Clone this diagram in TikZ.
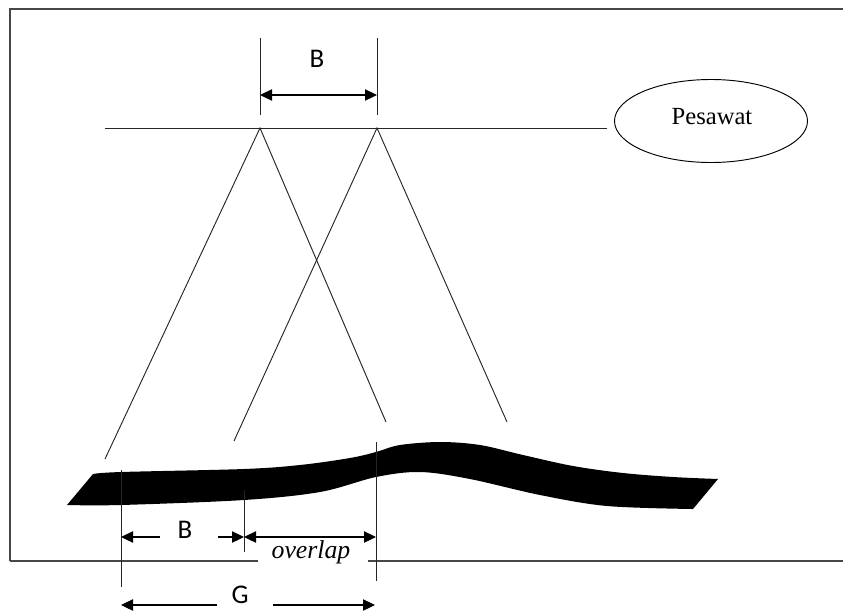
\documentclass[tikz,border=0pt]{standalone}
\usepackage{fontspec}
\setmainfont{Liberation Serif}
\setsansfont{Carlito}
\usetikzlibrary{arrows.meta,shapes.geometric}
\begin{document}
\begin{tikzpicture}[x=0.03cm,y=-0.03cm,
  thin line/.style={line width=0.8pt,draw=black!85},
  frameline/.style={line width=1.3pt,draw=black!72},
  dimarrow/.style={line width=0.9pt,draw=black,{Triangle[length=3.6mm,width=3.4mm]}-{Triangle[length=3.6mm,width=3.4mm]}},
  halfarrow/.style={line width=0.9pt,draw=black,-{Triangle[length=3.6mm,width=3.4mm]}},
  sanslbl/.style={font=\sffamily\fontsize{23}{26}\selectfont,inner sep=0pt},
  seriflbl/.style={font=\fontsize{21}{24}\selectfont,inner sep=0pt}]
\useasboundingbox (0,0) rectangle (843,613);
% frame
\coordinate (fTL) at (10,9); \coordinate (fTR) at (843,9);
\coordinate (fBL) at (10,561); \coordinate (fBR) at (843,561);
\coordinate (fG1) at (258,561); \coordinate (fG2) at (368,561);
\draw[frameline] (fBL) -- (fTL) -- (fTR);
\draw[frameline] (fBL) -- (fG1);
\draw[frameline] (fG2) -- (fBR);
% flight line and aircraft
\node[draw,ellipse,line width=0.8pt,minimum width=5.79cm,minimum height=2.49cm,seriflbl] (plane) at (711,121) {};
\node[seriflbl] (planetxt) at (712,117) {Pesawat};
\coordinate (fl1) at (105,128); \coordinate (fl2) at (607,128);
\draw[thin line] (fl1) -- (fl2);
\coordinate (P1) at (260,128); \coordinate (P2) at (377,128);
% top B dimension
\coordinate (t1a) at (260,38); \coordinate (t1b) at (260,115);
\coordinate (t2a) at (377,38); \coordinate (t2b) at (377,115);
\draw[thin line] (t1a) -- (t1b);
\draw[thin line] (t2a) -- (t2b);
\coordinate (ta1) at (260,95); \coordinate (ta2) at (377,95);
\draw[dimarrow] (ta1) -- (ta2);
\node[sanslbl] (Btop) at (317,59) {B};
% view rays
\coordinate (r1) at (105,459); \coordinate (r2) at (386,422);
\coordinate (r3) at (234,441); \coordinate (r4) at (507,422);
\draw[thin line] (r1) -- (P1) -- (r2);
\draw[thin line] (r3) -- (P2) -- (r4);
% terrain
\fill[black] plot[smooth,tension=0.55] coordinates {(93,474) (121,472) (244,469) (300,465) (350,458) (376,452) (400,445) (440,442) (480,445) (523,455) (573,466) (623,473) (673,477) (718,479)}
  -- (693,509)
  -- plot[smooth,tension=0.55] coordinates {(693,509) (607,506) (540,495) (470,479) (420,472) (376,477) (320,492) (244,500) (121,505) (67,505)}
  -- cycle;
% verticals
\coordinate (v1a) at (121,470); \coordinate (v1b) at (121,587);
\coordinate (v2a) at (244,490); \coordinate (v2b) at (244,552);
\coordinate (v3a) at (376,442); \coordinate (v3b) at (376,581);
\draw[thin line] (v1a) -- (v1b);
\draw[thin line] (v2a) -- (v2b);
\draw[thin line] (v3a) -- (v3b);
% bottom B
\node[sanslbl] (Bbot) at (185,530) {B};
\coordinate (bb1) at (160,537); \coordinate (bb2) at (218,537);
\coordinate (bbL) at (121,537); \coordinate (bbR) at (244,537);
\draw[halfarrow] (bb1) -- (bbL);
\draw[halfarrow] (bb2) -- (bbR);
% overlap
\coordinate (ov1) at (244,537); \coordinate (ov2) at (376,537);
\draw[dimarrow] (ov1) -- (ov2);
\node[seriflbl,font=\itshape\fontsize{22}{24}\selectfont] (ovl) at (311,552) {overlap};
% G
\node[sanslbl] (Glbl) at (240,595) {G};
\coordinate (g1) at (217,605); \coordinate (g2) at (273,605);
\coordinate (gL) at (121,605); \coordinate (gR) at (375,605);
\draw[halfarrow] (g1) -- (gL);
\draw[halfarrow] (g2) -- (gR);
\end{tikzpicture}
\end{document}
